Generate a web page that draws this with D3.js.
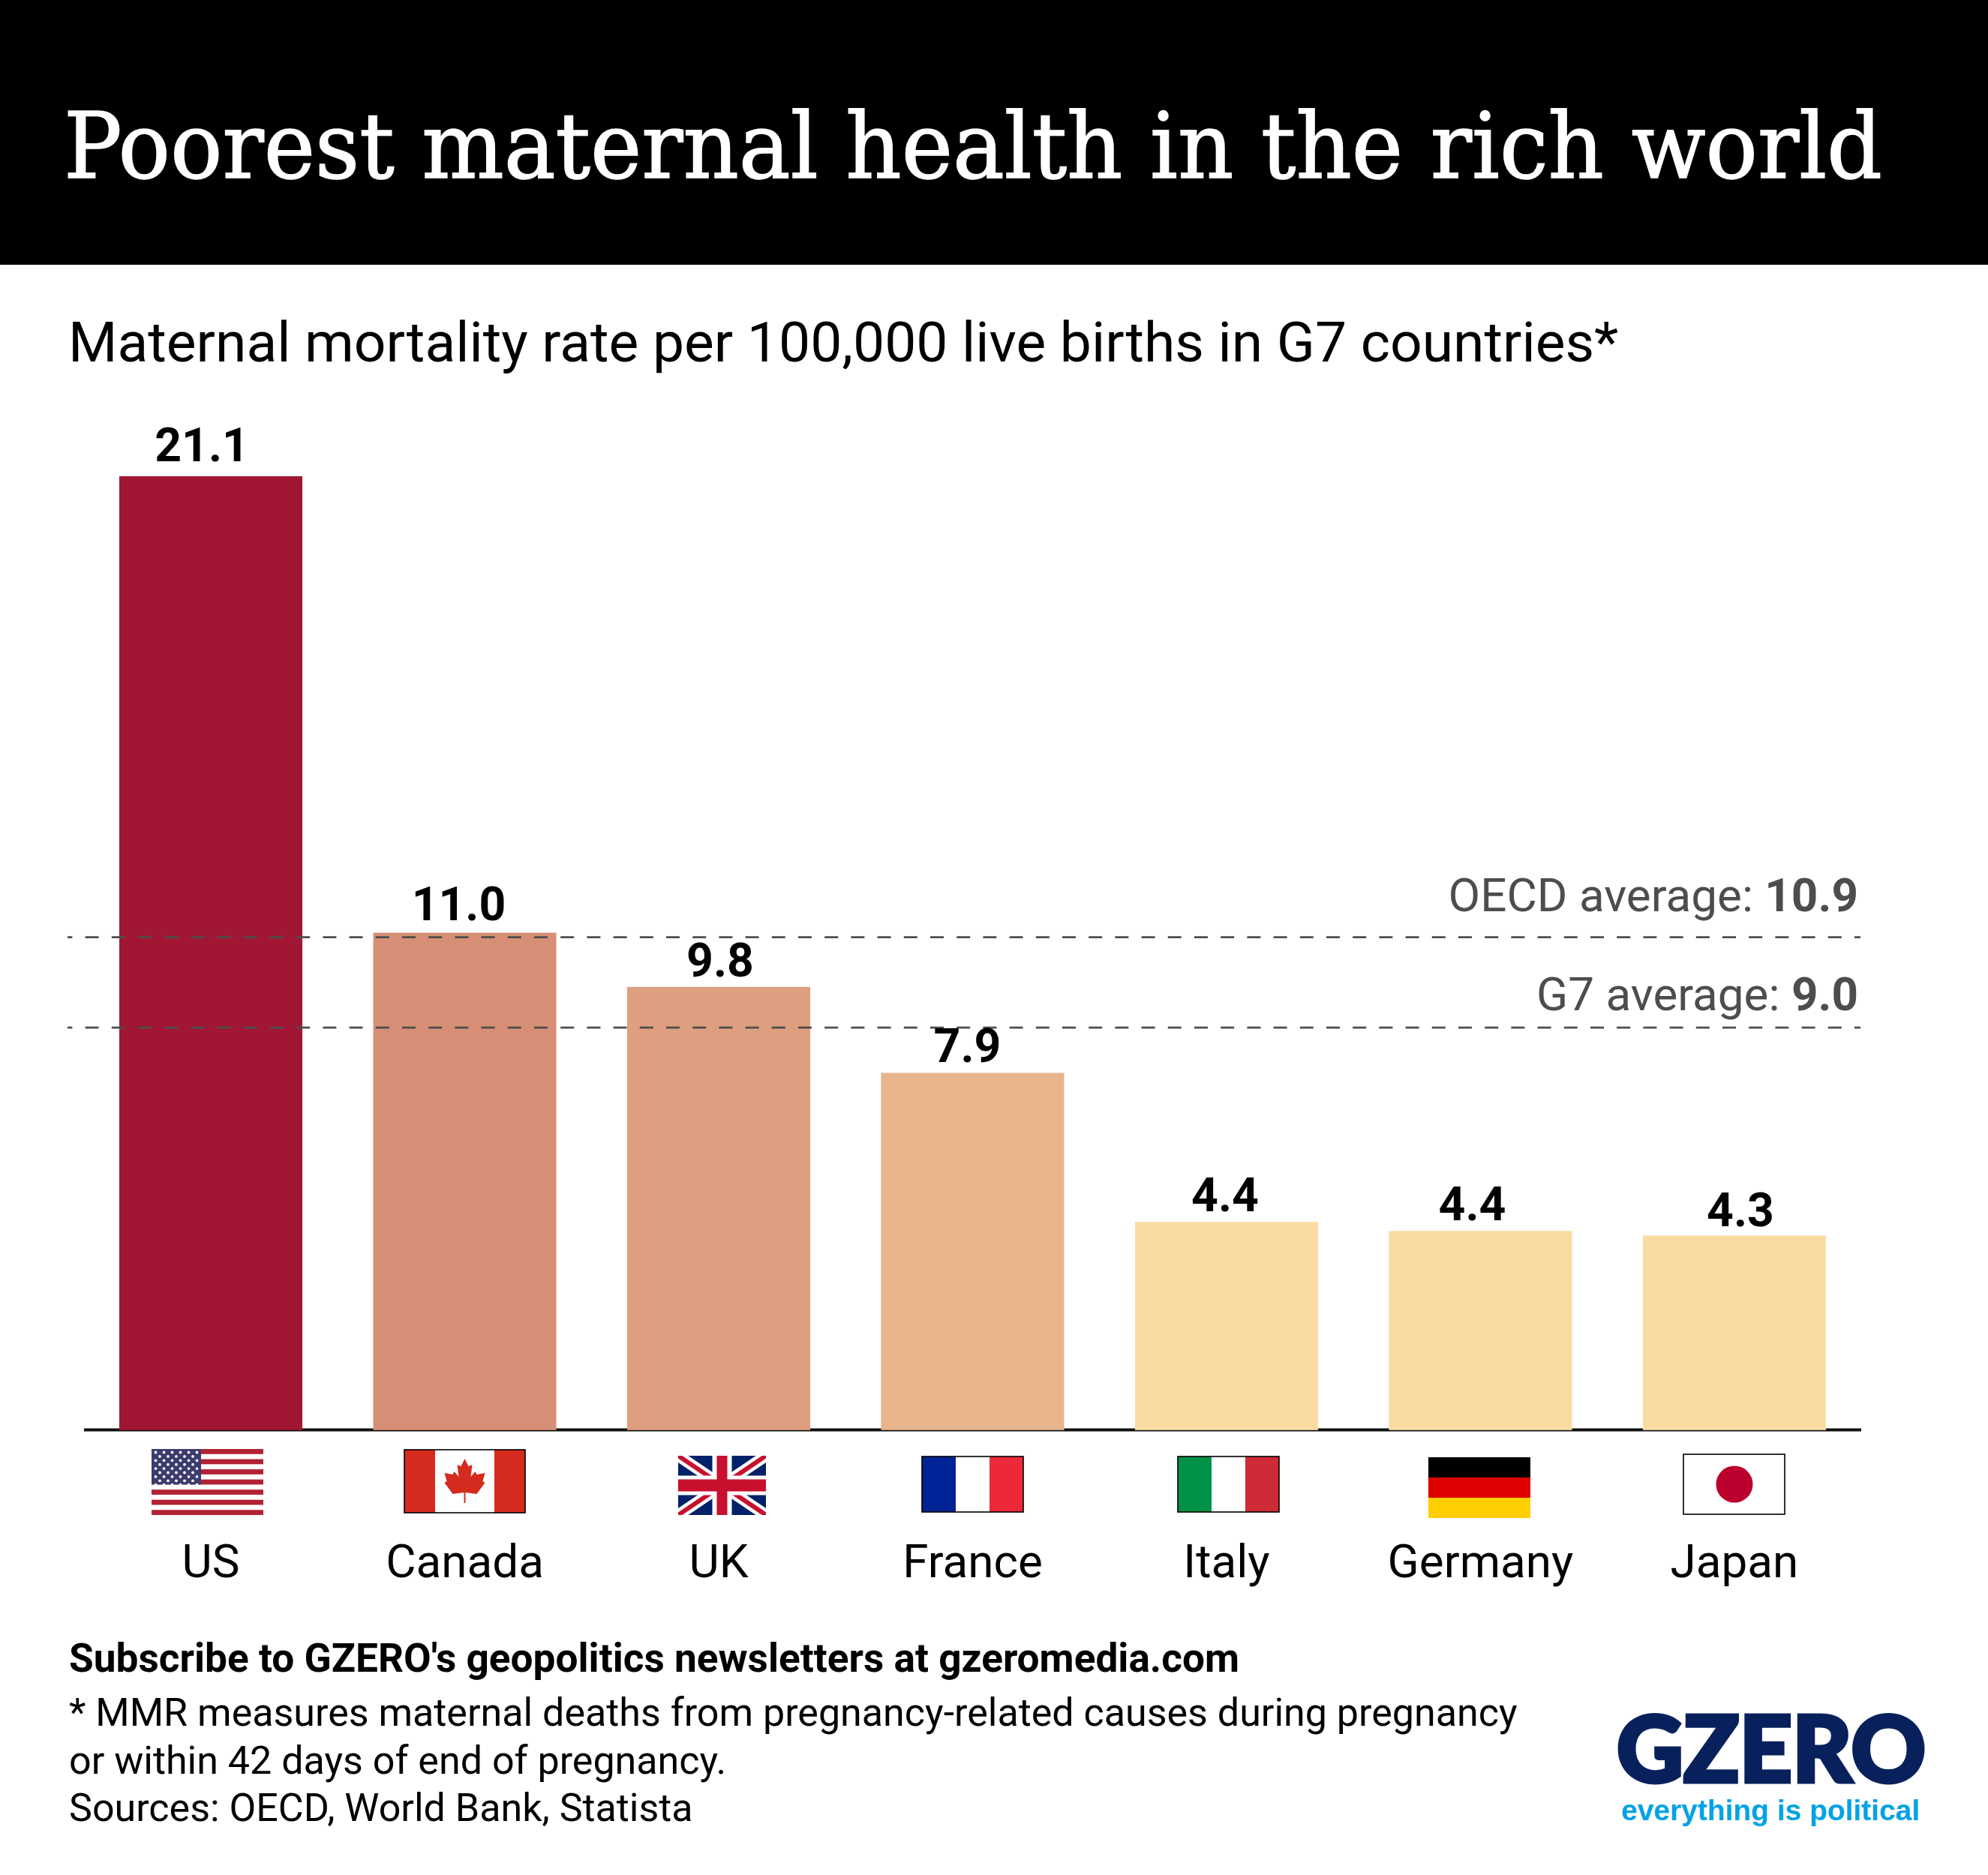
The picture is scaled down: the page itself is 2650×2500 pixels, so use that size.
<!DOCTYPE html>
<html>
<head>
<meta charset="utf-8">
<script src="https://d3js.org/d3.v7.min.js"></script>
<style>html,body{margin:0;padding:0;background:#fff}svg{display:block}</style>
</head>
<body>
<svg id="c" width="2650" height="2500" viewBox="0 0 2650 2500"></svg>
<script>
const categories = ["US","Canada","UK","France","Italy","Germany","Japan"];
const barValues = [21.1,11.0,9.8,7.9,4.6,4.4,4.3];
const valueLabels = ["21.1","11.0","9.8","7.9","4.4","4.4","4.3"];
const barColors = ["#a11733","#d68f76","#de9e80","#e7b48b","#fadca2","#fadca2","#fadca2"];
const labelOffsets = [-12,-8,2,-7,-2,-11,8];
const labelGaps = [20,17,14,14,14,14,12];
const refNames = ["OECD average: ","G7 average: "];
const refLabels = ["10.9","9.0"];
const refLines = [10.9,8.9];

const svg = d3.select("#c");
const R = "Roboto, sans-serif";
const x = d3.scaleBand().domain(categories).range([159,2434]).paddingInner(0.279).paddingOuter(0);
const y = d3.scaleLinear().domain([0,21.1]).range([1906.5,635]);

svg.append("rect").attr("x",0).attr("y",0).attr("width",2650).attr("height",353).attr("fill","#000");
svg.append("text").attr("x",85).attr("y",237).attr("fill","#fff").attr("stroke","#fff").attr("stroke-width",1.5)
  .attr("font-family","'DejaVu Serif Condensed','DejaVu Serif',serif").attr("font-size",122)
  .attr("textLength",2424).attr("lengthAdjust","spacingAndGlyphs")
  .text("Poorest maternal health in the rich world");
svg.append("text").attr("x",91).attr("y",482).attr("fill","#000")
  .attr("font-family",R).attr("font-size",75)
  .text("Maternal mortality rate per 100,000 live births in G7 countries*");

svg.append("g").selectAll("rect").data(categories).join("rect")
  .attr("x",d=>x(d)).attr("width",x.bandwidth())
  .attr("y",(d,i)=>y(barValues[i])).attr("height",(d,i)=>y(0)-y(barValues[i]))
  .attr("fill",(d,i)=>barColors[i]);

svg.append("rect").attr("x",112).attr("y",1904.5).attr("width",2369).attr("height",4).attr("fill","#111");
svg.append("g").selectAll("rect").data(categories).join("rect")
  .attr("x",d=>x(d)).attr("width",x.bandwidth())
  .attr("y",1904).attr("height",2.8)
  .attr("fill",(d,i)=>barColors[i]);

svg.append("g").selectAll("line").data(refLines).join("line")
  .attr("x1",90).attr("x2",2480).attr("y1",d=>y(d)).attr("y2",d=>y(d))
  .attr("stroke","#4d4d4d").attr("stroke-width",2.8).attr("stroke-dasharray","18 17.2").attr("stroke-dashoffset",11.6);

svg.append("g").selectAll("text").data(categories).join("text")
  .attr("x",(d,i)=>x(d)+x.bandwidth()/2+labelOffsets[i])
  .attr("y",(d,i)=>y(barValues[i])-labelGaps[i])
  .attr("text-anchor","middle").attr("font-family",R).attr("font-weight",700).attr("font-size",62.5)
  .attr("fill","#000").text((d,i)=>valueLabels[i]);

const ref = svg.append("g").selectAll("text").data(refLabels).join("text")
  .attr("x",2477).attr("y",(d,i)=>[1215,1347][i]).attr("text-anchor","end")
  .attr("font-family",R).attr("font-size",62).attr("fill","#4d4d4d");
ref.append("tspan").text((d,i)=>refNames[i]);
ref.append("tspan").attr("font-weight",700).text(d=>d);

svg.append("g").selectAll("text").data(categories).join("text")
  .attr("x",d=>x(d)+x.bandwidth()/2).attr("y",2103)
  .attr("text-anchor","middle").attr("font-family",R).attr("font-size",62).attr("fill","#000").text(d=>d);

// flags
const fl = svg.append("g");
function r(g,a,b,w,h,f){g.append("rect").attr("x",a).attr("y",b).attr("width",w).attr("height",h).attr("fill",f);}
function outline(g,a,b,w,h){g.append("rect").attr("x",a).attr("y",b).attr("width",w).attr("height",h).attr("fill","none").attr("stroke","#000").attr("stroke-width",1.6);}
// US
{const g=fl.append("g"),a=202,b=1932,w=149,h=88,s=h/13;
 for(let i=0;i<13;i+=2) r(g,a,b+i*s,w,s,"#b22234");
 r(g,a,b,66,s*7,"#3c3b6e");
 const st=[];for(let j=0;j<9;j++)for(let k=0;k<(j%2?5:6);k++)st.push([a+(j%2?11:5.5)+k*11,b+4.5+j*5.4]);
 g.selectAll("circle").data(st).join("circle").attr("cx",d=>d[0]).attr("cy",d=>d[1]).attr("r",1.9).attr("fill","#fff");}
// Canada
{const g=fl.append("g"),a=539,b=1933,w=161,h=84;
 r(g,a,b,w,h,"#fff");r(g,a,b,41,h,"#d52b1e");r(g,a+w-41,b,41,h,"#d52b1e");
 const cx=a+w/2,cy=b;
 const half=[[0,12],[5,22],[10,20],[8,36],[14,29],[16,33],[27,31],[24,42],[27,44],[16,59],[1,57],[1,71]];
 const leaf=half.concat(half.slice(1).reverse().map(p=>[-p[0],p[1]]));
 g.append("path").attr("d",d3.line().x(d=>cx+d[0]).y(d=>cy+d[1])(leaf)+"Z").attr("fill","#d52b1e");
 outline(g,a,b,w,h);}
// UK
{const g=fl.append("g"),a=904,b=1941,w=117,h=79;
 g.append("clipPath").attr("id","ukc").append("rect").attr("x",a).attr("y",b).attr("width",w).attr("height",h);
 const g2=g.append("g").attr("clip-path","url(#ukc)");
 r(g2,a,b,w,h,"#012169");
 [[a,b,a+w,b+h],[a+w,b,a,b+h]].forEach(l=>{
   g2.append("line").attr("x1",l[0]).attr("y1",l[1]).attr("x2",l[2]).attr("y2",l[3]).attr("stroke","#fff").attr("stroke-width",15);
   g2.append("line").attr("x1",l[0]).attr("y1",l[1]).attr("x2",l[2]).attr("y2",l[3]).attr("stroke","#c8102e").attr("stroke-width",6);
 });
 r(g2,a,b+h/2-13,w,26,"#fff");r(g2,a+w/2-13,b,26,h,"#fff");
 r(g2,a,b+h/2-8,w,16,"#c8102e");r(g2,a+w/2-7,b,14,h,"#c8102e");}
// France
{const g=fl.append("g"),a=1229,b=1942,w=135,h=74;
 r(g,a,b,45,h,"#002395");r(g,a+45,b,45,h,"#fff");r(g,a+90,b,45,h,"#ed2939");outline(g,a,b,w,h);}
// Italy
{const g=fl.append("g"),a=1570,b=1942,w=135,h=74;
 r(g,a,b,45,h,"#009246");r(g,a+45,b,45,h,"#fff");r(g,a+90,b,45,h,"#ce2b37");outline(g,a,b,w,h);}
// Germany
{const g=fl.append("g"),a=1904,b=1943,w=136,h=81;
 r(g,a,b,w,27,"#000");r(g,a,b+27,w,27,"#dd0000");r(g,a,b+54,w,27,"#ffce00");}
// Japan
{const g=fl.append("g"),a=2244,b=1939,w=135,h=80;
 r(g,a,b,w,h,"#fff");outline(g,a,b,w,h);
 g.append("ellipse").attr("cx",a+68).attr("cy",b+40).attr("rx",24.5).attr("ry",24.5).attr("fill","#bc002d");}

// footer
svg.append("text").attr("x",92).attr("y",2229).attr("font-family",R).attr("font-weight",700).attr("font-size",53.2).attr("fill","#000")
  .text("Subscribe to GZERO's geopolitics newsletters at gzeromedia.com");
const foot=["* MMR measures maternal deaths from pregnancy-related causes during pregnancy","or within 42 days of end of pregnancy.","Sources: OECD, World Bank, Statista"];
svg.append("g").selectAll("text").data(foot).join("text").attr("x",92).attr("y",(d,i)=>[2301,2365,2428][i])
  .attr("font-family",R).attr("font-size",52).attr("fill","#000").text(d=>d);

// logo
svg.append("text").attr("x",2155).attr("y",2376).attr("font-family","Lato,'Liberation Sans',sans-serif").attr("font-weight",900)
  .attr("font-size",122).attr("fill","#08215c").attr("stroke","#08215c").attr("stroke-width",5)
  .attr("textLength",412).attr("lengthAdjust","spacingAndGlyphs").text("GZERO");
svg.append("text").attr("x",2161).attr("y",2427).attr("font-family","'Liberation Sans',sans-serif").attr("font-weight",700)
  .attr("font-size",39).attr("fill","#00a3e4")
  .attr("textLength",398).attr("lengthAdjust","spacingAndGlyphs").text("everything is political");
</script>
</body>
</html>
